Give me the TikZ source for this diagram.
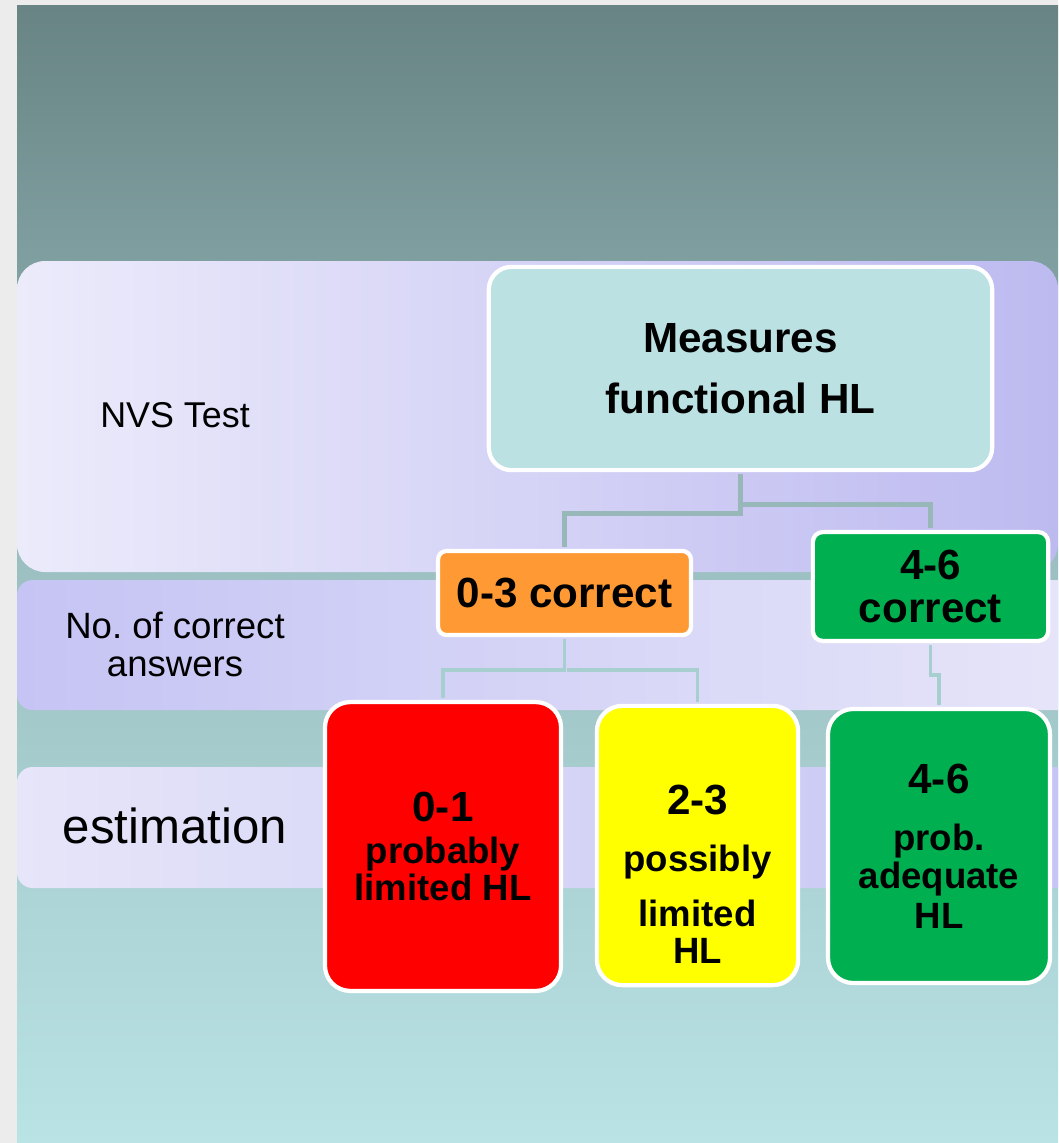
\documentclass[tikz,border=0pt]{standalone}
\usepackage{fontspec}
\setmainfont{Liberation Sans}
\usepackage{xcolor}
\usepackage{tikz}
\usetikzlibrary{positioning, calc}
\frenchspacing
\definecolor{framegray}{HTML}{ECECEC}
\definecolor{bgtop}{HTML}{688484}
\definecolor{bgmid}{HTML}{9DC0C2}
\definecolor{bgbot}{HTML}{B9E3E5}
\definecolor{lavlight}{HTML}{ECEBFB}
\definecolor{lavdark}{HTML}{BDBAF0}
\definecolor{lavmid}{HTML}{C5C4F4}
\definecolor{lavpale}{HTML}{E6E5F9}
\definecolor{measfill}{HTML}{BBE1E3}
\definecolor{hlorange}{HTML}{FF9933}
\definecolor{hlgreen}{HTML}{00B050}
\definecolor{hlred}{HTML}{FF0000}
\definecolor{hlyellow}{HTML}{FFFF00}
\definecolor{linktop}{HTML}{97B7B9}
\definecolor{linklow}{HTML}{A8CFD0}
\tikzset{
    band/.style={rounded corners=14pt},
    hlbox/.style={rectangle, draw=white, line width=3pt, rounded corners=16pt, align=center,
        font=\fontsize{26}{26.5}\selectfont\bfseries},
    bigtext/.style={font=\fontsize{30}{31}\selectfont\bfseries},
    link/.style={draw=linktop, line width=3.2pt, shorten <=1.5pt, shorten >=1.5pt},
    sublink/.style={draw=linklow, line width=2.6pt, shorten <=1.5pt, shorten >=1.5pt},
    rowlabel/.style={align=center, font=\fontsize{26}{27}\selectfont}
}
\newcommand{\numline}[1]{{\fontsize{30}{30}\selectfont #1}}

\begin{document}
\begin{tikzpicture}[x=0.025cm, y=-0.025cm]
  % backdrop
  \fill[framegray] (0,0) rectangle (1058,1143);
  \shade[top color=bgtop, bottom color=bgbot, middle color=bgmid] (17,6) rectangle (1058,1143);
  \begin{scope}
    \clip (0,0) rectangle (1058,1143);
    \shade[band, rounded corners=20pt, left color=lavlight, right color=lavdark] (17,261) rectangle (1058,572);
    \shade[band, rounded corners=11pt, left color=lavmid, right color=lavpale] (17,580) rectangle (1080,710);
    \shade[band, rounded corners=11pt, left color=lavpale, right color=lavmid] (17,767) rectangle (1080,888);
  \end{scope}

  % row labels
  \node[rowlabel, font=\fontsize{25.5}{27}\selectfont] (nvs) at (175,415) {NVS Test};
  \node[rowlabel] (ncorrect) at (175,644) {No.\ of correct\\answers};
  \node[rowlabel, font=\fontsize{35}{36}\selectfont] (estim) at (175,826) {estimation};

  % boxes
  \node[hlbox, bigtext, fill=measfill, minimum width=12.58cm, minimum height=5.08cm] (meas)
    at (740.5,368.5) {Measures\\[12pt]functional HL};
  \node[hlbox, bigtext, fill=hlorange, rounded corners=6pt, minimum width=6.32cm, minimum height=2.1cm] (c03)
    at (564.5,593) {0-3 correct};
  \node[hlbox, bigtext, fill=hlgreen, rounded corners=7pt, minimum width=5.88cm, minimum height=2.72cm] (c46)
    at (930.5,586.5) {4-6\\correct};
  \node[hlbox, fill=hlred, rounded corners=18pt, minimum width=5.9cm, minimum height=7.22cm] (low)
    at (443,846.5) {\numline{0-1}\\[3.5pt]probably\\limited HL};
  \node[hlbox, fill=hlyellow, rounded corners=18pt, minimum width=5.03cm, minimum height=6.98cm] (mid)
    at (697.5,845.5) {};
  \node[align=center, font=\fontsize{26}{26.5}\selectfont\bfseries] (midtext)
    at (697.5,874) {\numline{2-3}\\[14pt]possibly\\[12.5pt]limited\\HL};
  \node[hlbox, fill=hlgreen, rounded corners=18pt, minimum width=5.55cm, minimum height=6.85cm] (adeq)
    at (939,846) {\numline{4-6}\\[14pt]prob.\\[0.5pt]adequate\\[2pt]HL};

  % connectors
  \draw[link] (meas.south) -- ++(0,41.5) -| (c03.north);
  \draw[link] (meas.south) ++(0,32.5) -| (c46.north);
  \draw[sublink] (c03.south) -- ++(0,33) -| (low.north);
  \draw[sublink] (c03.south) ++(0,33) -| (mid.north);
  \draw[sublink] (c46.south) -- ++(0,32) -| (adeq.north);

  \useasboundingbox (0,0) rectangle (1058,1143);
\end{tikzpicture}
\end{document}
